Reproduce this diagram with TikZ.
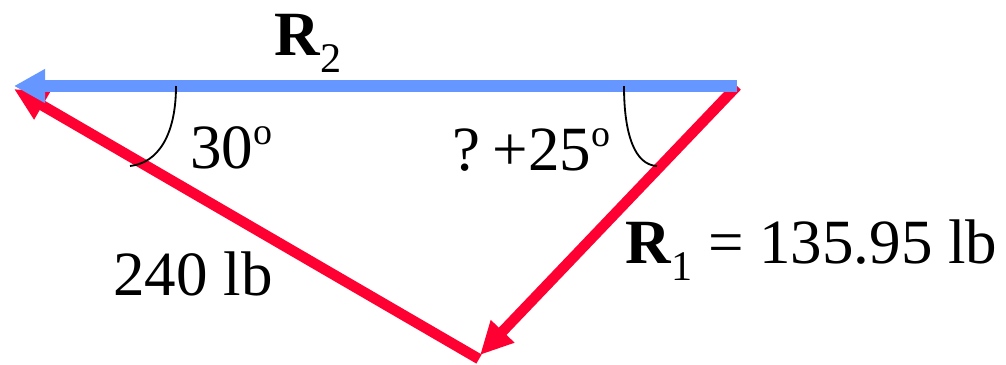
\documentclass[tikz,border=0pt]{standalone}
\usepackage{fontspec}
\setmainfont{Liberation Serif}
\usetikzlibrary{arrows.meta}
\definecolor{sideblue}{RGB}{102,150,255}
\definecolor{sidered}{RGB}{255,0,51}
\newcommand{\lowsub}[1]{\raisebox{-0.27em}{\fontsize{30}{30}\selectfont #1}}
\newcommand{\degsup}{\raisebox{0.37em}{\fontsize{27}{27}\selectfont o}}

\begin{document}
\begin{tikzpicture}[x=0.025cm, y=-0.025cm,
    lbl/.style={anchor=base west, inner sep=0pt, font=\fontsize{44.8}{54}\selectfont},
    vecblue/.style={draw=sideblue, line width=8.5pt, -{Triangle[length=0.78cm, width=0.8cm]}},
    vecred/.style={draw=sidered, line width=7.5pt, -{Triangle[length=0.82cm, width=0.76cm]}},
    angarc/.style={draw, line width=1.3pt}]
\useasboundingbox (0,0) rectangle (1006,364);

% triangle corners
\coordinate (tipL) at (14,86);
\coordinate (tipLred) at (14,89);
\coordinate (cornB) at (737,86);
\coordinate (cornC) at (479,359);
\coordinate (tipC) at (480,355);

% vectors
\draw[vecred] (cornC) -- (tipLred);
\draw[vecred] (cornB) -- (tipC);
\draw[vecblue] (cornB) -- (tipL);

% angle marks
\draw[angarc] (176,86) .. controls (176,135) and (158,163) .. (130,166);
\draw[angarc] (624,86) .. controls (624,135) and (635,165) .. (657,166);

% labels
\node[lbl] (lblRtwo) at (274,55) {\textbf{R}\lowsub{2}};
\node[lbl] (lblthirty) at (190,168) {30\degsup};
\node[lbl] (lblangB) at (452,170) {?\hspace{0.2em}+25\degsup};
\node[lbl] (lblRone) at (625,263) {\textbf{R}\lowsub{1} = 135.95 lb};
\node[lbl] (lblforce) at (113,295) {240 lb};
\end{tikzpicture}
\end{document}
